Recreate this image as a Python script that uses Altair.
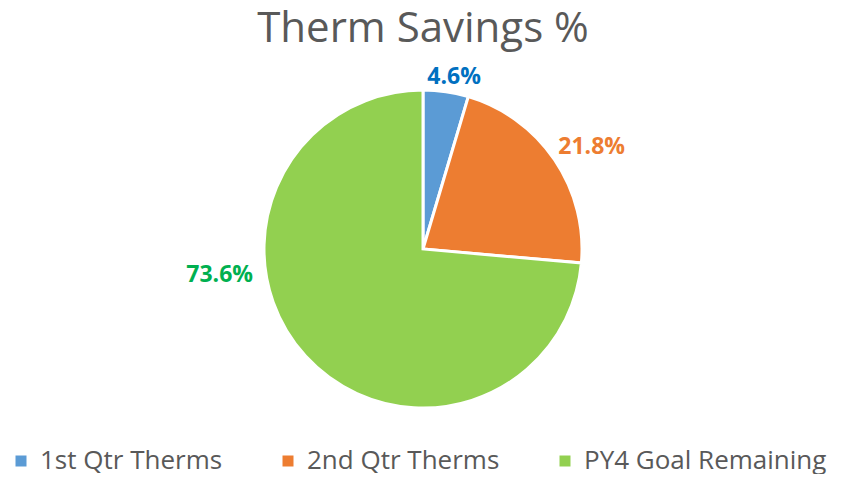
import math
import altair as alt
import pandas as pd

categories = ["1st Qtr Therms", "2nd Qtr Therms", "PY4 Goal Remaining"]
values = [4.6, 21.8, 73.6]
labels = ["4.6%", "21.8%", "73.6%"]
slice_colors = ["#5B9BD5", "#ED7D31", "#92D050"]
label_colors = ["#0070C0", "#ED7D31", "#00B050"]

df = pd.DataFrame({
    "category": categories,
    "value": values,
    "label": labels,
    "order": list(range(len(categories))),
})

FONT = "Open Sans"

pie = alt.Chart(df).mark_arc(radius=159, stroke="white", strokeWidth=3).encode(
    theta=alt.Theta("value:Q", stack=True),
    order=alt.Order("order:Q"),
    color=alt.Color(
        "category:N",
        sort=categories,
        scale=alt.Scale(domain=categories, range=slice_colors),
        legend=alt.Legend(
            title=None,
            orient="none",
            legendX=0,
            legendY=393,
            direction="horizontal",
            symbolType="square",
            symbolSize=121,
            symbolStrokeWidth=0,
            labelFontSize=26,
            labelFont=FONT,
            labelColor="#595959",
            labelOffset=6,
            columnPadding=52,
            labelLimit=400,
        ),
    ),
)

# label midpoints computed from the data
lab_base = alt.Chart(df).transform_window(
    cum="sum(value)", sort=[alt.SortField("order")], frame=[None, 0]
).transform_joinaggregate(total="sum(value)").transform_calculate(
    mid="(datum.cum - datum.value / 2) / datum.total"
)

label_style = {
    "1st Qtr Therms": dict(radius=175, thetaOffset=0.034),
    "2nd Qtr Therms": dict(radius=197, thetaOffset=0.054),
    "PY4 Goal Remaining": dict(radius=205, thetaOffset=0.614),
}

text_layers = []
for cat, col in zip(categories, label_colors):
    st = label_style[cat]
    text_layers.append(
        lab_base.transform_filter(alt.datum.category == cat).mark_text(
            font=FONT, fontSize=23, fontWeight="bold", color=col,
            align="center", baseline="middle", **st
        ).encode(
            theta=alt.Theta("mid:Q", scale=alt.Scale(domain=[0, 1], range=[0, 2 * math.pi]), stack=None),
            text="label:N",
        )
    )

chart = alt.layer(pie, *text_layers).resolve_scale(theta="independent").properties(
    width=830,
    height=388,
    padding=0,
    title=alt.TitleParams(
        "Therm Savings %", font=FONT, fontSize=42, fontWeight="normal",
        color="#595959", anchor="middle", offset=4,
    ),
).configure_view(stroke=None)

chart.save("out.html", embed_options={"renderer": "svg", "actions": False})
